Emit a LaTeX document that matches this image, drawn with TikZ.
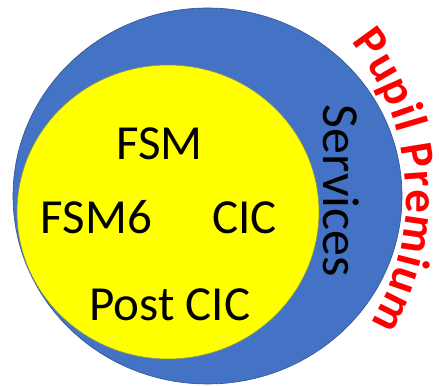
\documentclass[tikz,border=0pt]{standalone}
\usepackage{fontspec}
\setmainfont{Carlito}
\usepackage{tikz}
\usetikzlibrary{decorations.text}

\definecolor{ppblue}{HTML}{4472C4}
\definecolor{ppedge}{HTML}{2F528F}
\definecolor{ppyellow}{HTML}{FFFF00}
\definecolor{ppred}{HTML}{FF0000}

\begin{document}
\begin{tikzpicture}[x=1pt,y=1pt,line width=0.6pt]
	\tikzstyle{group}=[inner sep=0pt,text=black,font=\fontsize{49}{49}\selectfont]
	\useasboundingbox (0,0) rectangle (439,387);

	% circles
	\draw[fill=ppblue,draw=ppedge] (207.5,191) ellipse [x radius=194.5,y radius=188];
	\draw[fill=ppyellow,draw=ppedge!60!ppyellow] (168,175) ellipse [x radius=151,y radius=147];

	\node[group] (fsm)     at (159.5,243)  {FSM};
	\node[group] (fsmsix)  at (96.5,169.5) {FSM6};
	\node[group] (cic)     at (244.5,169.5) {CIC};
	\node[group] (postcic) at (170,82)     {Post CIC};
	\node[group,font=\fontsize{52}{52}\selectfont,rotate=-90] (services) at (341,196) {Services};

	% curved title
	\coordinate (arcc) at (160,190);
	\path[decorate,decoration={text along path,text align=fit to path,
		text={|\fontsize{47}{47}\selectfont\bfseries\color{ppred}|Pupil Premium}}]
		(arcc) ++(39:246) arc[start angle=39,end angle=-31,radius=246];
\end{tikzpicture}
\end{document}
